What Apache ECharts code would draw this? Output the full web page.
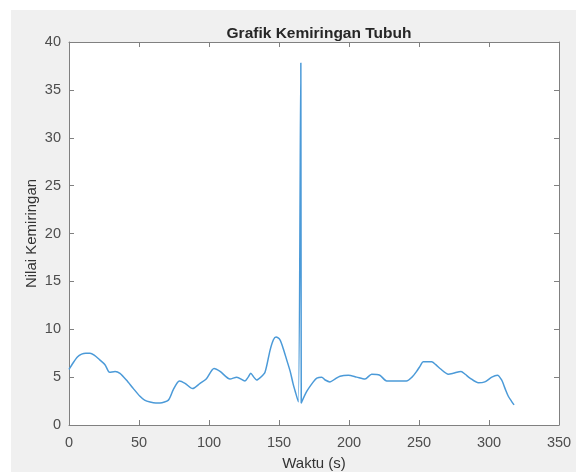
<!DOCTYPE html>
<html>
<head>
<meta charset="utf-8">
<script src="https://cdn.jsdelivr.net/npm/echarts@6/dist/echarts.min.js"></script>
<style>
html,body{margin:0;padding:0;background:#fff;}
#chart{width:576px;height:472px;}
</style>
</head>
<body>
<div id="chart"></div>
<script>
var timeValues = [0, 3, 6, 9, 12, 15, 18, 22, 25.7, 29, 32.9, 36.4, 41, 46, 50.7, 54, 57.9, 62, 65, 71, 74.5, 78.8, 82.9, 88.3, 93.6, 98, 103.6, 107.9, 115, 119.8, 125.7, 128, 129.8, 132, 134, 137, 140, 143.6, 146, 147.9, 150.7, 153, 155.5, 158, 160, 162, 163.8, 165.6, 165.9, 169.8, 174.5, 177, 180.5, 183, 186.4, 190, 193.6, 199.5, 205.5, 211.4, 216.2, 222, 226.9, 234, 241, 245, 248.3, 251, 253, 259, 262, 265, 271, 274.5, 280, 283, 286.4, 292.4, 297, 302, 306, 309, 311.5, 313.8, 316, 317.9];
var tiltValues = [5.8, 6.5, 7.1, 7.4, 7.5, 7.5, 7.3, 6.8, 6.3, 5.5, 5.6, 5.4, 4.7, 3.8, 3.0, 2.6, 2.4, 2.3, 2.3, 2.6, 3.7, 4.6, 4.35, 3.8, 4.35, 4.8, 5.9, 5.6, 4.8, 5.0, 4.6, 5.0, 5.4, 5.0, 4.7, 5.0, 5.5, 7.8, 8.9, 9.2, 8.9, 8.0, 6.8, 5.6, 4.35, 3.3, 2.4, 37.8, 2.3, 3.5, 4.5, 4.9, 5.0, 4.7, 4.5, 4.8, 5.1, 5.2, 5.0, 4.8, 5.3, 5.2, 4.6, 4.6, 4.6, 5.0, 5.6, 6.2, 6.6, 6.6, 6.3, 5.9, 5.3, 5.4, 5.6, 5.3, 4.9, 4.4, 4.5, 5.0, 5.2, 4.7, 3.8, 3.0, 2.5, 2.1];
var xTicks = [0, 50, 100, 150, 200, 250, 300, 350];
var yTicks = [0, 5, 10, 15, 20, 25, 30, 35, 40];
var titleText = 'Grafik Kemiringan Tubuh';
var xName = 'Waktu (s)';
var yName = 'Nilai Kemiringan';

var seriesData = timeValues.map(function (t, i) { return [t, tiltValues[i]]; });
var font = '"Liberation Sans", Arial, sans-serif';
var axisColor = '#808080';
var labelColor = '#4d4d4d';

function secondary(pos, isX) {
  return {
    type: 'value', position: pos,
    min: isX ? xTicks[0] : yTicks[0],
    max: isX ? xTicks[xTicks.length - 1] : yTicks[yTicks.length - 1],
    interval: isX ? 50 : 5,
    axisLine: {show: true, onZero: false, lineStyle: {color: axisColor, width: 1}},
    axisTick: {show: true, inside: true, length: 5, lineStyle: {color: axisColor}},
    axisLabel: {show: false}, splitLine: {show: false}
  };
}

var chart = echarts.init(document.getElementById('chart'), null, {renderer: 'canvas'});
chart.setOption({
  backgroundColor: '#ffffff',
  animation: false,
  graphic: [{
    type: 'rect', z: -10, silent: true,
    shape: {x: 11, y: 10, width: 566, height: 463},
    style: {fill: '#f0f0f0'}
  }],
  title: {
    text: titleText, left: 314, top: 21, textAlign: 'center',
    textStyle: {fontFamily: font, fontSize: 15.5, fontWeight: 'bold', color: '#262626'}
  },
  grid: {left: 69, right: 17, top: 42, bottom: 47, show: true, backgroundColor: '#ffffff', borderWidth: 0,
         containLabel: false, outerBoundsMode: 'none'},
  xAxis: [{
    type: 'value', min: xTicks[0], max: xTicks[xTicks.length - 1], interval: 50,
    name: xName, nameLocation: 'middle', nameGap: 31, nameMoveOverlap: false,
    nameTextStyle: {fontFamily: font, fontSize: 15, color: '#333'},
    axisLine: {show: true, onZero: false, lineStyle: {color: axisColor, width: 1}},
    axisTick: {show: true, inside: true, length: 5, lineStyle: {color: axisColor}},
    axisLabel: {fontFamily: font, fontSize: 14.5, color: labelColor, margin: 10},
    splitLine: {show: false}
  }, secondary('top', true)],
  yAxis: [{
    type: 'value', min: yTicks[0], max: yTicks[yTicks.length - 1], interval: 5,
    name: yName, nameLocation: 'middle', nameGap: 30, nameRotate: 90, nameMoveOverlap: false,
    nameTextStyle: {fontFamily: font, fontSize: 15, color: '#333'},
    axisLine: {show: true, onZero: false, lineStyle: {color: axisColor, width: 1}},
    axisTick: {show: true, inside: true, length: 5, lineStyle: {color: axisColor}},
    axisLabel: {fontFamily: font, fontSize: 14.5, color: labelColor, margin: 8},
    splitLine: {show: false}
  }, secondary('right', false)],
  series: [{
    type: 'line', xAxisIndex: 0, yAxisIndex: 0,
    data: seriesData, showSymbol: false, smooth: 0.25,
    lineStyle: {color: '#4b9ad8', width: 1.5}
  }]
});
</script>
</body>
</html>
